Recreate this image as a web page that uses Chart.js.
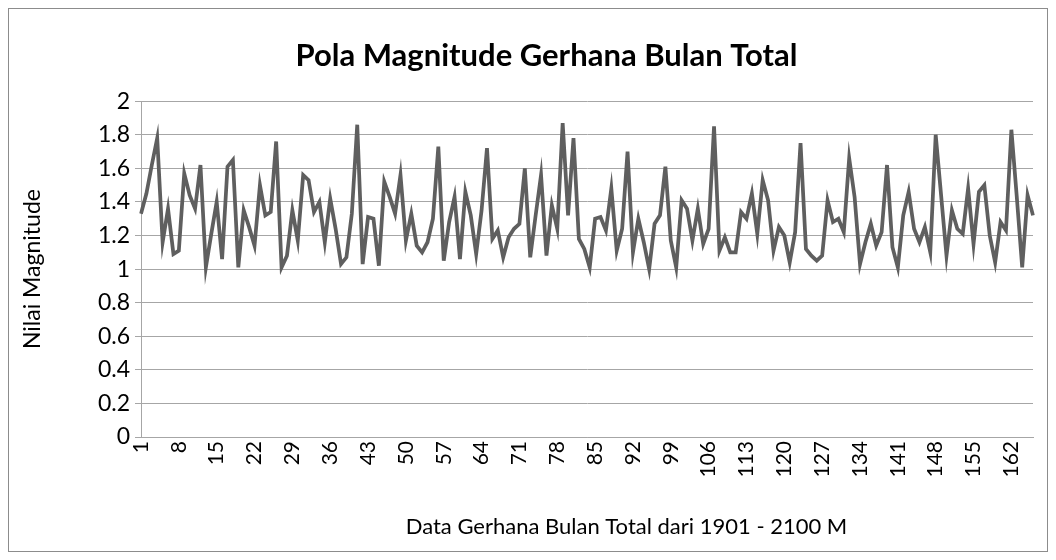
<!DOCTYPE html>
<html>
<head>
	<title>Pola Magnitude Gerhana Bulan Total</title>
	<script src="https://cdn.jsdelivr.net/npm/chart.js"></script>
	<style>
		body{
			margin: 0;
			background: #ffffff;
		}
		#wrap{
			position: relative;
			width: 1056px;
			height: 560px;
		}
	</style>
</head>
<body>
	<div id="wrap">
		<canvas id="chart1"></canvas>
	</div>
	<script>
		// magnitude of every total lunar eclipse, 1901 - 2100
		var magnitudes = [
			1.33, 1.45, 1.62, 1.78, 1.16, 1.36, 1.09, 1.11, 1.57, 1.44,
			1.36, 1.62, 1.01, 1.21, 1.40, 1.06, 1.61, 1.65, 1.01, 1.35,
			1.25, 1.14, 1.50, 1.32, 1.34, 1.76, 1.01, 1.08, 1.35, 1.17,
			1.56, 1.53, 1.34, 1.40, 1.16, 1.42, 1.24, 1.03, 1.07, 1.33,
			1.86, 1.03, 1.31, 1.30, 1.02, 1.52, 1.43, 1.33, 1.56, 1.17,
			1.33, 1.14, 1.10, 1.16, 1.30, 1.73, 1.05, 1.28, 1.43, 1.06,
			1.46, 1.32, 1.09, 1.35, 1.72, 1.18, 1.23, 1.07, 1.19, 1.24,
			1.27, 1.60, 1.07, 1.32, 1.56, 1.08, 1.38, 1.24, 1.87, 1.32,
			1.78, 1.18, 1.12, 1.01, 1.30, 1.31, 1.23, 1.48, 1.11, 1.24,
			1.70, 1.10, 1.30, 1.16, 1.00, 1.27, 1.32, 1.61, 1.17, 1.01,
			1.41, 1.36, 1.17, 1.36, 1.15, 1.24, 1.85, 1.11, 1.19, 1.10,
			1.10, 1.34, 1.30, 1.45, 1.21, 1.53, 1.41, 1.11, 1.25, 1.20,
			1.04, 1.22, 1.75, 1.12, 1.08, 1.05, 1.08, 1.41, 1.28, 1.30,
			1.22, 1.66, 1.43, 1.03, 1.16, 1.27, 1.14, 1.22, 1.62, 1.13,
			1.01, 1.32, 1.46, 1.24, 1.16, 1.25, 1.10, 1.80, 1.44, 1.08,
			1.35, 1.24, 1.21, 1.48, 1.15, 1.46, 1.50, 1.20, 1.04, 1.28,
			1.23, 1.83, 1.43, 1.01, 1.44, 1.32
		];

		// categories are just the eclipse number 1..166
		var categories = magnitudes.map(function(v, i) {
			return String(i + 1);
		});

		var labelStep = 7;
		var yMin = 0;
		var yMax = 2;
		var yStep = 0.2;

		var chartTitle = 'Pola Magnitude Gerhana Bulan Total';
		var xTitle = 'Data Gerhana Bulan Total dari 1901 - 2100 M';
		var yTitle = 'Nilai Magnitude';

		var gridColor = '#a6a6a6';
		var lineColor = '#5f5f5f';

		Chart.defaults.font.family = 'Lato, "Open Sans", sans-serif';
		Chart.defaults.color = '#000000';

		// outer frame of the chart like the excel chart box
		var framePlugin = {
			id: 'frame',
			beforeDraw: function(chart) {
				var ctx = chart.ctx;
				ctx.save();
				ctx.fillStyle = '#ffffff';
				ctx.fillRect(0, 0, chart.width, chart.height);
				ctx.strokeStyle = '#8c8c8c';
				ctx.lineWidth = 1;
				ctx.strokeRect(8.5, 8.5, chart.width - 17, chart.height - 17);
				ctx.restore();
			}
		};

		// the titles in the original are not centred on the canvas, nudge them
		var nudgePlugin = {
			id: 'nudge',
			afterLayout: function(chart) {
				chart.boxes.forEach(function(box) {
					if (!box.options || box.options.text === undefined) return;
					var dx = 0;
					if (box.options.text === chartTitle) dx = 25;
					if (box.options.text === xTitle) dx = 105;
					box.left += dx;
					box.right += dx;
				});
			}
		};

		var ctx = document.getElementById('chart1').getContext('2d');
		var myChart = new Chart(ctx, {
			type: 'line',
			data: {
				labels: categories,
				datasets: [{
					label: yTitle,
					data: magnitudes,
					borderColor: lineColor,
					backgroundColor: lineColor,
					borderWidth: 3.75,
					pointRadius: 0,
					tension: 0,
					fill: false
				}]
			},
			options: {
				responsive: true,
				maintainAspectRatio: false,
				animation: false,
				layout: {
					padding: {left: 10, right: 23, top: 0, bottom: 0}
				},
				plugins: {
					legend: {display: false},
					tooltip: {enabled: false},
					title: {
						display: true,
						text: chartTitle,
						font: {size: 31, weight: 'bold'},
						color: '#000000',
						padding: {top: 37, bottom: 27}
					},
					// used as the x axis title so it can sit where the original has it
					subtitle: {
						display: true,
						position: 'bottom',
						text: xTitle,
						font: {size: 22},
						color: '#000000',
						padding: {top: 0, bottom: 20}
					}
				},
				scales: {
					x: {
						offset: false,
						grid: {display: false, drawTicks: false},
						border: {display: true, color: gridColor},
						ticks: {
							autoSkip: false,
							maxRotation: 90,
							minRotation: 90,
							padding: 4,
							font: {size: 21},
							callback: function(value, index) {
								return index % labelStep === 0 ? categories[index] : null;
							}
						},
						afterFit: function(scale) {
							scale.height = 76.6;
						}
					},
					y: {
						min: yMin,
						max: yMax,
						grid: {color: gridColor, tickLength: 6},
						border: {display: true, color: gridColor},
						ticks: {
							stepSize: yStep,
							padding: 5,
							font: {size: 23},
							callback: function(value) {
								return String(Number(value.toFixed(1)));
							}
						},
						title: {
							display: true,
							text: yTitle,
							font: {size: 23},
							padding: {top: 9, bottom: 0}
						},
						afterFit: function(scale) {
							scale.width = 131;
						}
					}
				}
			},
			plugins: [framePlugin, nudgePlugin]
		});
	</script>
</body>
</html>
